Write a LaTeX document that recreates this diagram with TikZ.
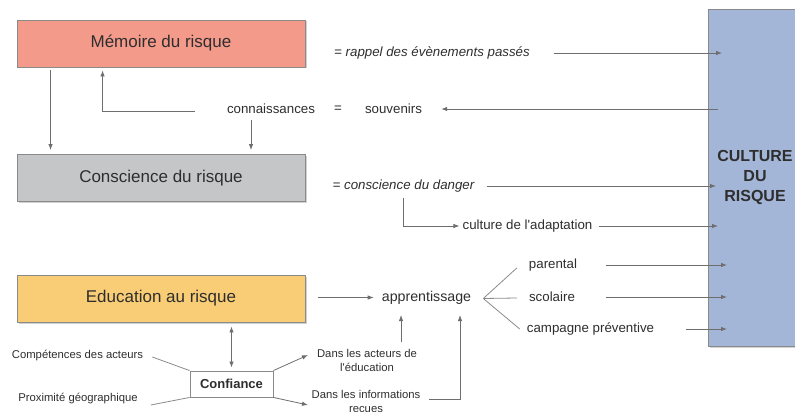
\documentclass[tikz,border=0pt]{standalone}
\usepackage{fontspec}
\setmainfont{Liberation Sans}
\usetikzlibrary{arrows.meta,shadows}
\definecolor{memfill}{HTML}{F39A8B}
\definecolor{consfill}{HTML}{C4C6C8}
\definecolor{edufill}{HTML}{F9CD76}
\definecolor{cultfill}{HTML}{A4B6D8}
\definecolor{bordgray}{HTML}{8A8A8A}
\definecolor{arrgray}{HTML}{6E6E6E}
\definecolor{txtgray}{HTML}{2E2E2E}
\tikzset{
  bigbox/.style={draw=bordgray, line width=0.9pt, minimum width=288pt, minimum height=47pt,
    inner sep=0pt, text=txtgray, font=\fontsize{17}{20}\selectfont,
    drop shadow={shadow xshift=1.5pt, shadow yshift=-1.5pt, fill=black!35, opacity=0.5}},
  medtxt/.style={inner sep=0pt, text=txtgray, font=\fontsize{13.3}{16}\selectfont},
  smalltxt/.style={inner sep=0pt, text=txtgray, align=center, font=\fontsize{11.3}{14}\selectfont},
  arr/.style={draw=arrgray, line width=0.8pt, -{Latex[length=6pt,width=4.5pt]}},
  darr/.style={draw=arrgray, line width=0.8pt, {Latex[length=6pt,width=4.5pt]}-{Latex[length=6pt,width=4.5pt]}},
  plainline/.style={draw=arrgray!80, line width=0.8pt}
}
\begin{document}
\begin{tikzpicture}[x=1pt,y=-1pt]
\useasboundingbox (0,0) rectangle (795,412);
\clip (0,0) rectangle (795,412);
% big boxes
\node[bigbox, fill=memfill] (mem) at (161,43.5) {Mémoire du risque};
\node[bigbox, fill=consfill] (cons) at (161,178) {Conscience du risque};
\node[bigbox, fill=edufill] (edu) at (161,298.5) {Education au risque};
\node[draw=bordgray, line width=0.9pt, fill=cultfill, minimum width=112pt, minimum height=336.5pt, inner sep=0pt,
  drop shadow={shadow xshift=1.5pt, shadow yshift=-1.5pt, fill=black!35, opacity=0.5}] (cult) at (764,177.75) {};
\node[inner sep=0pt, align=center, text=txtgray, font=\bfseries\fontsize{16}{20}\selectfont] (culttxt) at (755,177) {CULTURE\\DU\\RISQUE};
% texts
\node[medtxt, font=\itshape\fontsize{13.3}{16}\selectfont] (rappel) at (432,53) {= rappel des évènements passés};
\node[medtxt] (conn) at (271,109) {connaissances};
\node[medtxt] (eq) at (338,109) {=};
\node[medtxt] (souv) at (393.5,109) {souvenirs};
\node[medtxt, font=\itshape\fontsize{13.3}{16}\selectfont] (danger) at (403.5,186) {= conscience du danger};
\node[medtxt] (adapt) at (527.5,226) {culture de l\textquotesingle adaptation};
\node[medtxt, font=\fontsize{14.2}{17}\selectfont] (appr) at (426.5,297.5) {apprentissage};
\node[medtxt] (par) at (553,265) {parental};
\node[medtxt] (scol) at (552,297) {scolaire};
\node[medtxt] (camp) at (590.5,329) {campagne préventive};
\node[smalltxt] (comp) at (77.5,356) {Compétences des acteurs};
\node[smalltxt] (prox) at (78,399) {Proximité géographique};
\node[smalltxt] (acteurs) at (367,360) {Dans les acteurs de\\l\textquotesingle éducation};
\node[smalltxt] (infos) at (366,403) {Dans les informations\\reçues};
\node[draw=bordgray, line width=0.9pt, fill=white, minimum width=83pt, minimum height=26pt, inner sep=0pt,
  text=txtgray, font=\bfseries\fontsize{13}{16}\selectfont] (conf) at (231.5,384) {Confiance};
% coordinates
\coordinate (cinA) at (722,0);
\coordinate (cinB) at (716,0);
\coordinate (cinC) at (727,0);
\coordinate (coutA) at (718,0);
\coordinate (upA) at (401,342);
\coordinate (upAend) at (401,315);
\coordinate (infStart) at (429,399);
\coordinate (infEnd) at (460,315);
\coordinate (tA) at (308,355);
\coordinate (tI) at (308,405);
\coordinate (d1) at (conf.north |- edu.south);
% connectors
\draw[arr] ([xshift=34pt,yshift=-3pt]mem.south west) -- ([xshift=34pt,yshift=4pt]cons.north west);
\draw[arr] ([xshift=-32pt,yshift=-2pt]conn.west) -| ([xshift=86pt,yshift=-3pt]mem.south west);
\draw[arr] ([xshift=-20pt,yshift=-6pt]conn.south) -- ([xshift=90pt,yshift=4pt]cons.north);
\draw[arr] ([xshift=24pt]rappel.east) -- (rappel.east -| cinA);
\draw[arr] (souv.east -| coutA) -- ([xshift=19pt]souv.east);
\draw[arr] ([xshift=12pt]danger.east) -- (danger.east -| cinB);
\draw[arr] ([yshift=-6pt]danger.south) |- ([xshift=-3pt]adapt.west);
\draw[arr] ([xshift=6pt]adapt.east) -- (adapt.east -| coutA);
\draw[arr] ([xshift=13pt]edu.east |- appr.west) -- ([xshift=-8pt]appr.west);
\draw[plainline] ([xshift=12pt,yshift=-1pt]appr.east) -- ([xshift=-12pt,yshift=-3pt]par.west);
\draw[plainline] ([xshift=12pt,yshift=-1pt]appr.east) -- ([xshift=-12pt,yshift=-1pt]scol.west);
\draw[plainline] ([xshift=12pt,yshift=-1pt]appr.east) -- ([xshift=-7pt,yshift=0pt]camp.west);
\draw[arr] ([xshift=29pt]par.east) -- (par.east -| cinC);
\draw[arr] ([xshift=31pt]scol.east) -- (scol.east -| cinC);
\draw[arr] ([xshift=32pt]camp.east) -- (camp.east -| cinC);
\draw[arr] (upA) -- (upAend);
\draw[arr] (infStart) -| (infEnd);
\draw[darr] ([yshift=-4pt]d1) -- ([yshift=3pt]conf.north);
\draw[plainline] ([xshift=9pt,yshift=-1pt]comp.east) -- (conf.north west);
\draw[plainline] ([xshift=13pt,yshift=-6pt]prox.east) -- (conf.south west);
\draw[arr] (conf.north east) -- (tA);
\draw[arr] (conf.south east) -- (tI);
\end{tikzpicture}
\end{document}
